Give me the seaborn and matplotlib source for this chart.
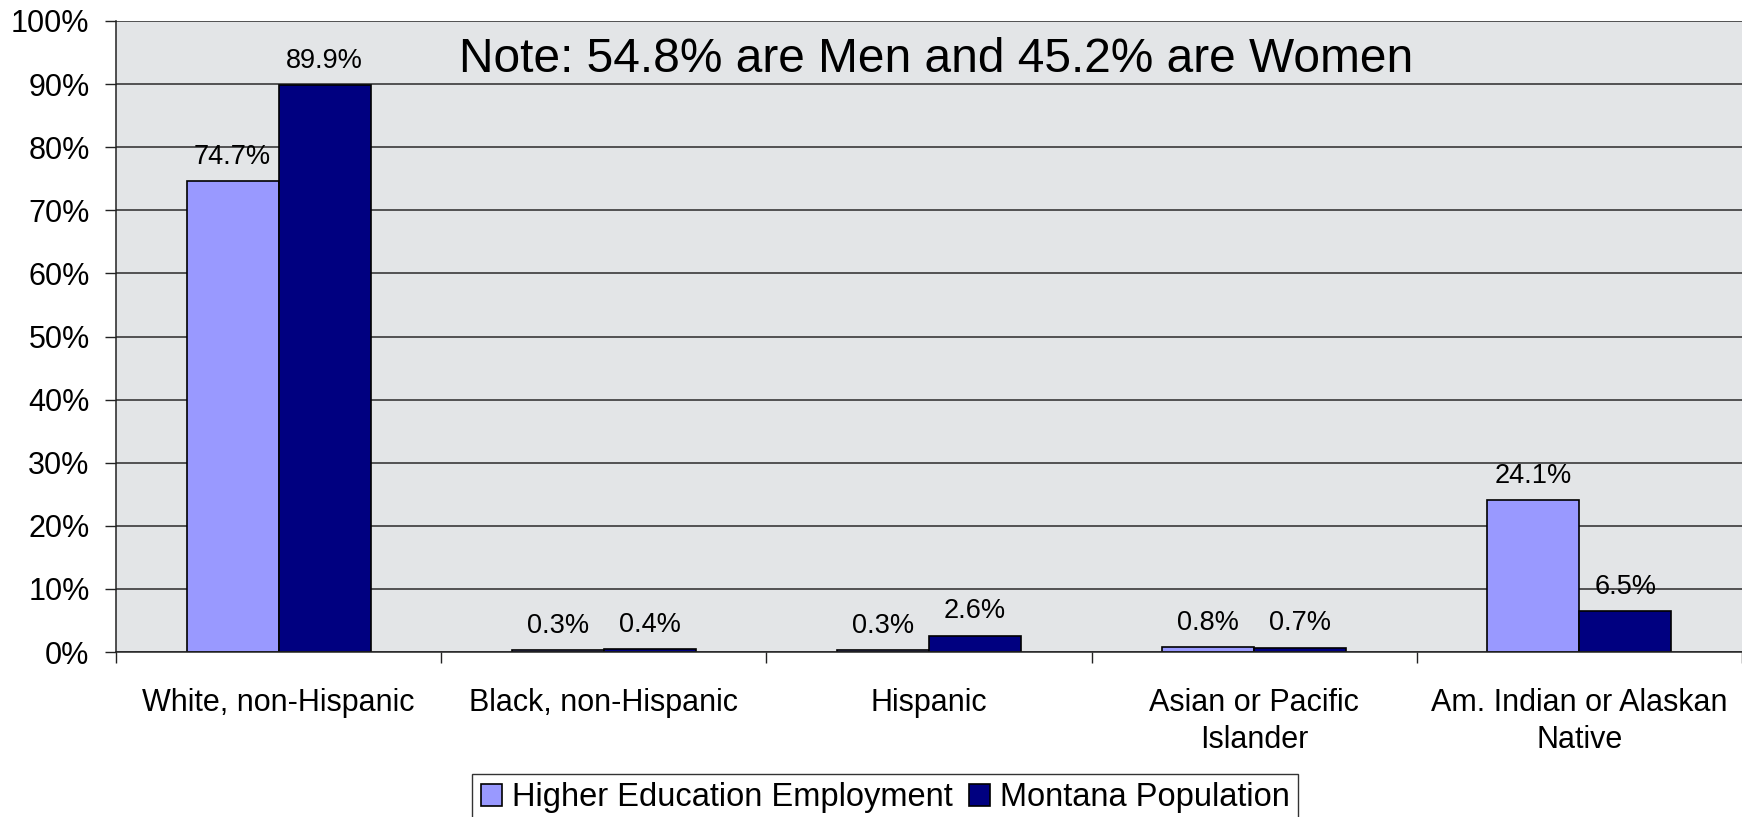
import matplotlib
matplotlib.use("Agg")
import matplotlib.pyplot as plt
import seaborn as sns
import pandas as pd
from matplotlib.ticker import FuncFormatter, FixedLocator

categories = ["White, non-Hispanic", "Black, non-Hispanic", "Hispanic",
              "Asian or Pacific\nIslander", "Am. Indian or Alaskan\nNative"]
series_names = ["Higher Education Employment", "Montana Population"]
higher_ed = [74.7, 0.3, 0.3, 0.8, 24.1]
montana_pop = [89.9, 0.4, 2.6, 0.7, 6.5]
note_text = "Note: 54.8% are Men and 45.2% are Women"

colors = ["#9999FF", "#000080"]

sns.set_theme(style="white")
plt.rcParams["font.family"] = ["Liberation Sans", "DejaVu Sans"]
plt.rcParams["text.color"] = "black"
plt.rcParams["xtick.color"] = "black"
plt.rcParams["ytick.color"] = "black"
plt.rcParams["xtick.labelcolor"] = "black"
plt.rcParams["ytick.labelcolor"] = "black"

df = pd.DataFrame({
    "category": categories * 2,
    "value": higher_ed + montana_pop,
    "series": [series_names[0]] * len(categories) + [series_names[1]] * len(categories),
})

fig = plt.figure(figsize=(17.42, 8.17), dpi=100)
ax = fig.add_axes([116 / 1742, 1 - 652 / 817, 1 - 116 / 1742, (652 - 21) / 817])
ax.set_facecolor("#E3E5E7")

sns.barplot(data=df, x="category", y="value", hue="series", palette=colors,
            edgecolor="black", linewidth=1.2, width=0.566, ax=ax, saturation=1)

ax.set_xlim(-0.5, len(categories) - 0.5)
ax.set_ylim(0, 100)
ax.set_yticks(range(0, 101, 10))
ax.yaxis.set_major_formatter(FuncFormatter(lambda v, p: f"{v:.0f}%"))
ax.grid(axis="y", color="#2a2a2a", linewidth=1.1)
ax.set_axisbelow(True)
ax.set_xlabel("")
ax.set_ylabel("")

for s in ["top", "right"]:
    ax.spines[s].set_visible(False)
ax.spines["left"].set_color("#222222")
ax.spines["bottom"].set_color("#222222")
ax.spines["left"].set_linewidth(1.1)
ax.spines["bottom"].set_linewidth(1.1)

ax.tick_params(axis="y", which="major", direction="out", length=8, width=1,
               color="#222222", pad=11, labelsize=22, left=True)
ax.tick_params(axis="x", which="major", length=0, pad=26, labelsize=22)
ax.xaxis.set_minor_locator(FixedLocator([i - 0.5 for i in range(len(categories) + 1)]))
ax.tick_params(axis="x", which="minor", direction="out", length=8, width=1,
               color="#222222", bottom=True)
for lab in ax.get_xticklabels():
    lab.set_linespacing(1.32)

for cont in ax.containers:
    ax.bar_label(cont, labels=[f"{v:.1f}%" for v in cont.datavalues],
                 padding=8, fontsize=19.5, color="black")

leg = ax.get_legend()
if leg is not None:
    leg.remove()
handles, labels = ax.get_legend_handles_labels()
fig.legend(handles, labels, loc="upper center", bbox_to_anchor=(885 / 1742, 1 - 774 / 817),
           ncol=2, frameon=True, fancybox=False, edgecolor="black", fontsize=23.5,
           handlelength=0.65, handleheight=0.65, handletextpad=0.3, columnspacing=0.5,
           borderpad=0.25, borderaxespad=0)

fig.text(459 / 1742, 1 - 72 / 817, note_text, fontsize=34.5, ha="left", va="baseline",
         color="black")

fig.savefig("out.png", dpi=100)
